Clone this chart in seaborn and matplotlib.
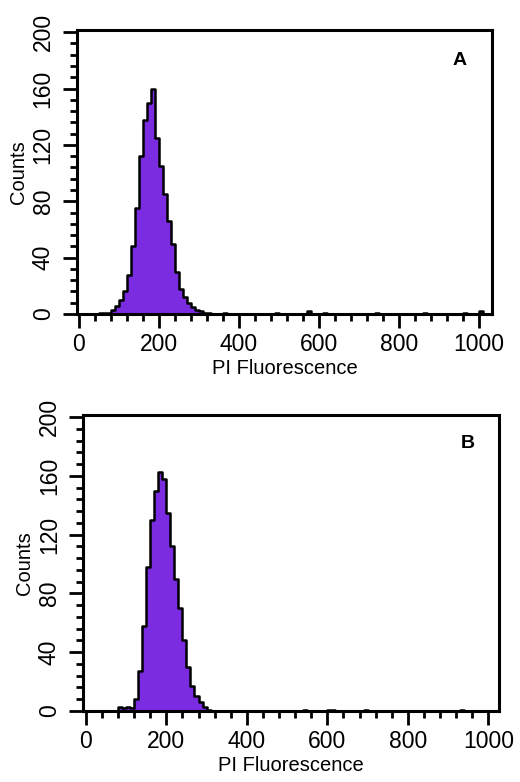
import numpy as np
import pandas as pd
import matplotlib
matplotlib.use("Agg")
import matplotlib.pyplot as plt
from matplotlib.ticker import MultipleLocator
import seaborn as sns

# histogram bins (channel start, width 10)
BIN_WIDTH = 10
a_bins = [50, 60, 70, 80, 90, 100, 110, 120, 130, 140, 150, 160, 170, 180, 190,
          200, 210, 220, 230, 240, 250, 260, 270, 280, 290, 300, 310, 320, 360,
          490, 570, 610, 740, 860, 960, 1000]
a_counts = [1, 1, 1, 3, 6, 10, 16, 28, 48, 75, 112, 138, 150, 160, 125,
            105, 85, 66, 50, 30, 18, 12, 8, 5, 3, 2, 1, 1, 1,
            1, 2, 1, 1, 1, 1, 2]

b_bins = [80, 90, 100, 110, 120, 130, 140, 150, 160, 170, 180, 190, 200, 210,
          220, 230, 240, 250, 260, 270, 280, 290, 300, 540, 600, 610, 690, 930]
b_counts = [3, 2, 3, 2, 8, 27, 58, 98, 130, 150, 163, 158, 135, 112,
            90, 70, 48, 30, 17, 10, 6, 3, 1, 1, 1, 1, 1, 1]

panel_labels = ["A", "B"]
x_label = "PI Fluorescence"
y_label = "Counts"
PURPLE = "#7B2BE0"

sns.set_style("ticks")
plt.rcParams["font.family"] = ["Liberation Sans", "DejaVu Sans"]
for key in ["text.color", "axes.labelcolor", "xtick.color", "ytick.color", "axes.edgecolor"]:
    plt.rcParams[key] = "black"

fig = plt.figure(figsize=(5.2, 7.82), dpi=100)
axes = [fig.add_axes([0.148, 0.5985, 0.798, 0.3631]),
        fig.add_axes([0.1596, 0.0908, 0.8004, 0.3785])]
xlims = [(-5, 1032), (-7, 1027)]
label_pos = [(950, 180), (948, 182)]

for ax, bins, counts, xl, lp, name in zip(axes, [a_bins, b_bins], [a_counts, b_counts],
                                          xlims, label_pos, panel_labels):
    df = pd.DataFrame({"x": np.array(bins) + BIN_WIDTH / 2, "n": counts})
    sns.histplot(data=df, x="x", weights="n", binwidth=BIN_WIDTH, binrange=(0, 1040),
                 element="step", fill=True, color=PURPLE, edgecolor="black",
                 linewidth=1.8, alpha=1, ax=ax)
    ax.set_xlim(*xl)
    ax.set_ylim(0, 201.5)
    ax.xaxis.set_major_locator(MultipleLocator(200))
    ax.xaxis.set_minor_locator(MultipleLocator(40))
    ax.yaxis.set_major_locator(MultipleLocator(40))
    ax.yaxis.set_minor_locator(MultipleLocator(8))
    ax.tick_params(which="major", length=10, width=2, labelsize=16.5)
    ax.tick_params(which="minor", length=5, width=2)
    ax.tick_params(axis="x", pad=4)
    ax.tick_params(axis="y", labelrotation=90, pad=6)
    for lab in ax.get_yticklabels():
        lab.set_va("center")
    for sp in ax.spines.values():
        sp.set_linewidth(2.2)
        sp.set_visible(True)
    ax.set_xlabel(x_label, fontsize=14.5, labelpad=2)
    ax.set_ylabel(y_label, fontsize=14.5, labelpad=3)
    ax.text(lp[0], lp[1], name, fontsize=14, fontweight="bold", ha="center", va="center")

fig.savefig("out.png", dpi=100)
